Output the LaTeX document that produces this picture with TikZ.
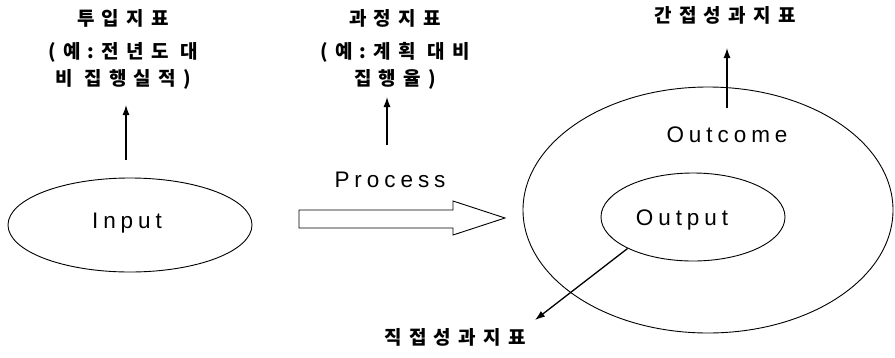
\documentclass[tikz,border=0pt]{standalone}
\usepackage{fontspec}
\usetikzlibrary{shapes.geometric,arrows.meta}
\newfontfamily\korfont[LetterSpace=38]{Noto Sans CJK KR}
\newfontfamily\latfont[LetterSpace=22]{Liberation Sans}
\begin{document}
\begin{tikzpicture}[x=1pt,y=-1pt,
  kor/.style={font=\korfont\bfseries\fontsize{19}{27}\selectfont, inner sep=0pt, align=center},
  lat/.style={font=\latfont\fontsize{22.5}{24}\selectfont, inner sep=0pt},
  oval/.style={ellipse, draw, line width=0.9pt, inner sep=0pt},
  arr/.style={line width=1.3pt, -{Latex[length=10pt,width=7pt]}}
]
\useasboundingbox (0,0) rectangle (895,357);
% left column
\node[kor] (t1) at (123,18) {투입지표};
\node[kor] (e1) at (123,66) {(예:전년도 대\\비 집행실적)};
\node[oval, minimum width=244pt, minimum height=94pt] (inE) at (130,225) {};
\node[lat] (inT) at (127,223) {Input};
\coordinate (a1s) at (126,160);
\coordinate (a1e) at (126,105);
\draw[arr] (a1s) -- (a1e);
% middle column
\node[kor] (t2) at (395,18) {과정지표};
\node[kor] (e2) at (395,66) {(예:계획 대비\\집행율)};
\node[lat] (pT) at (390,180) {Process};
\coordinate (a2s) at (387,145);
\coordinate (a2e) at (387,97);
\draw[arr] (a2s) -- (a2e);
\draw[line width=0.9pt] (299,210) -- (453,210) -- (453,201) -- (505,218) -- (453,235) -- (453,228) -- (299,228) -- cycle;
% right
\node[kor] (t3) at (725,15) {간접성과지표};
\node[oval, minimum width=370pt, minimum height=246pt] (outerE) at (708,210) {};
\node[lat] (ocT) at (727,135) {Outcome};
\node[oval, minimum width=184pt, minimum height=88pt] (outE) at (693,217) {};
\node[lat] (opT) at (682,220) {Output};
\coordinate (a3s) at (727,108);
\coordinate (a3e) at (727,48);
\draw[arr] (a3s) -- (a3e);
\coordinate (a4e) at (535,320);
\draw[arr] (outE.south west) -- (a4e);
\node[kor] (t4) at (455,337) {직접성과지표};
\end{tikzpicture}
\end{document}
